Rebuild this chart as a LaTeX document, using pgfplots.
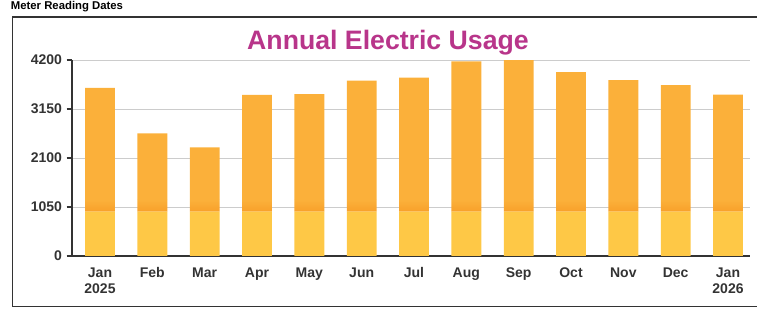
\documentclass[border=0pt]{standalone}
\usepackage{pgfplots}
\pgfplotsset{compat=1.18}
\usepackage{fontspec}
\setmainfont{Liberation Sans}
\definecolor{barlight}{HTML}{FEC846}
\definecolor{barmain}{HTML}{FBB03A}
\definecolor{bardark}{HTML}{F8A02A}
\definecolor{titlecol}{HTML}{B8358A}
\definecolor{txt}{HTML}{333333}
\pgfplotstableread{
x base band top
0  950 250 2400
1  950 250 1430
2  950 250 1125
3  950 250 2255
4  950 250 2270
5  950 250 2560
6  950 250 2620
7  950 250 2970
8  950 250 3000
9  950 250 2740
10 950 250 2570
11 950 250 2460
12 950 250 2260
}\usage
\begin{document}
\begin{tikzpicture}
\useasboundingbox (0,0) rectangle (567.75pt,-237pt);
\node[anchor=base west, inner sep=0pt, font=\bfseries\fontsize{8.5}{10}\selectfont] at (8pt,-7.5pt) {Meter Reading Dates};
\draw[txt, line width=1.2pt] (9.5pt,-12.75pt) rectangle (600pt,-230pt);
\node[anchor=base, inner sep=0pt, text=titlecol, font=\bfseries\fontsize{20}{23}\selectfont] at (291pt,-37.5pt) {Annual Electric Usage};
\begin{axis}[
  at={(54pt,-192pt)}, anchor=south west,
  scale only axis, width=508.5pt, height=147pt,
  ymin=0, ymax=4200, xmin=-0.535, xmax=12.42,
  clip=false,
  axis lines*=left,
  axis line style={txt, line width=0.8pt},
  ytick={0,1050,2100,3150,4200},
  xtick={0,...,12},
  xticklabels={{Jan\\2025},Feb,Mar,Apr,May,Jun,Jul,Aug,Sep,Oct,Nov,Dec,{Jan\\2026}},
  xticklabel style={align=center, anchor=north, yshift=-1pt},
  major x tick style={draw=none},
  major y tick style={txt, line width=0.8pt},
  tick align=outside,
  major tick length=4pt,
  ymajorgrids,
  grid style={gray!40, line width=0.6pt},
  tick label style={txt, font=\bfseries\fontsize{10.5}{12}\selectfont},
  /pgf/number format/assume math mode=true,
  /pgf/number format/1000 sep={},
  ybar stacked, bar width=0.57,
]
\addplot[fill=barlight, draw=none] table[x=x, y=base] {\usage};
\addplot[bottom color=bardark, top color=barmain, draw=none] table[x=x, y=band] {\usage};
\addplot[fill=barmain, draw=none] table[x=x, y=top] {\usage};
\end{axis}
\end{tikzpicture}
\end{document}
